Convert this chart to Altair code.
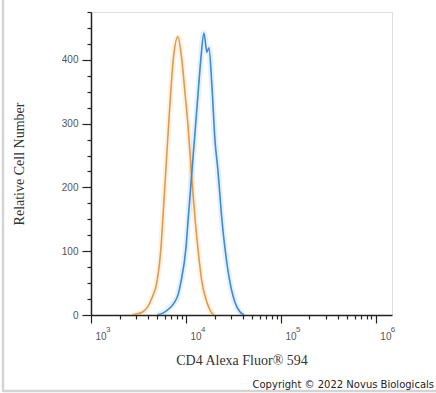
import altair as alt
import pandas as pd

# Orange histogram (isotype control)
orange_x = [2700, 3530, 4390, 4950, 5460, 5740, 6140, 6620, 6920, 7380, 8240,
            9000, 9750, 10500, 11350, 12500, 13350, 14730, 16630, 18330, 19900]
orange_y = [0, 5, 27, 52, 105, 157, 227, 306, 350, 403, 436,
            403, 350, 298, 227, 149, 105, 52, 20, 5, 0]

# Blue histogram (CD4 stained)
blue_x = [5000, 6010, 8040, 8860, 10000, 10640, 11590, 12640, 13460, 14390, 15450,
          16630, 17460, 18800, 20190, 21720, 23940, 25740, 29040, 32800, 37000, 41000]
blue_y = [0, 5, 27, 52, 105, 157, 227, 298, 350, 403, 442,
          412, 419, 358, 275, 227, 149, 105, 52, 20, 5, 0]

x_ticks = [1000, 2000, 3000, 4000, 5000, 6000, 7000, 8000, 9000,
           10000, 20000, 30000, 40000, 50000, 60000, 70000, 80000, 90000,
           100000, 200000, 300000, 400000, 500000, 600000, 700000, 800000, 900000,
           1000000]
x_major = [1000, 10000, 100000, 1000000]
x_exponents = ["3", "4", "5", "6"]
y_ticks = list(range(0, 476, 25))

df = pd.concat([
    pd.DataFrame({"fl": orange_x, "count": orange_y, "s": "iso", "o": range(len(orange_x))}),
    pd.DataFrame({"fl": blue_x, "count": blue_y, "s": "cd4", "o": range(len(blue_x))}),
])
exp_df = pd.DataFrame({"fl": x_major, "e": x_exponents})
one = pd.DataFrame({"k": [0]})

x_scale = alt.Scale(type="log", domain=[1000, 1480000], nice=False)

x_enc = alt.X(
    "fl:Q",
    scale=x_scale,
    axis=alt.Axis(
        title="CD4 Alexa Fluor\u00ae 594",
        values=x_ticks,
        labelExpr="indexof([1000,10000,100000,1000000], datum.value) >= 0 ? '10' : ''",
        labelOverlap=False,
        labelFlush=False,
        labelAlign="left",
        labelOffset=4,
        labelPadding=8,
        labelFont="Liberation Sans",
        labelFontSize=10,
        labelColor="#555555",
        tickSize={"condition": {"test": "indexof([1000,10000,100000,1000000], datum.value) >= 0", "value": 8}, "value": 4},
        tickColor="#222222",
        tickWidth=1.2,
        domainColor="#222222",
        domainWidth=1.5,
        grid=False,
        titleFont="Liberation Serif",
        titleFontSize=14,
        titleFontWeight="normal",
        titleColor="#333333",
        titlePadding=12,
    ),
)

y_enc = alt.Y(
    "count:Q",
    scale=alt.Scale(domain=[0, 475], nice=False),
    axis=alt.Axis(
        title="Relative Cell Number",
        values=y_ticks,
        labelExpr="datum.value % 100 == 0 ? datum.label : ''",
        labelOverlap=False,
        labelFlush=False,
        labelPadding=4,
        labelFont="Liberation Sans",
        labelFontSize=10,
        labelColor="#555555",
        tickSize={"condition": {"test": "datum.value % 100 == 0", "value": 9}, "value": 4},
        tickColor="#222222",
        tickWidth=1.2,
        domainColor="#222222",
        domainWidth=1.5,
        grid=False,
        titleFont="Liberation Serif",
        titleFontSize=14,
        titleFontWeight="normal",
        titleColor="#333333",
        titlePadding=35,
    ),
)

color_scale = alt.Scale(domain=["iso", "cd4"], range=["#E49A45", "#3A8AD6"])

glow = alt.Chart(df).mark_line(interpolate="monotone", strokeWidth=6, opacity=0.12, clip=True).encode(
    x=x_enc, y=y_enc, order="o:Q",
    color=alt.Color("s:N", scale=color_scale, legend=None),
    detail="s:N",
)
lines = alt.Chart(df).mark_line(interpolate="monotone", strokeWidth=1.6, clip=True).encode(
    x=x_enc, y=y_enc, order="o:Q",
    color=alt.Color("s:N", scale=color_scale, legend=None),
    detail="s:N",
)

exps = alt.Chart(exp_df).mark_text(
    font="Liberation Sans", fontSize=8, align="left", baseline="alphabetic",
    color="#555555", dx=15, clip=False
).encode(x=alt.X("fl:Q", scale=x_scale), y=alt.value(320), text="e:N")

frame_left = alt.Chart(one).mark_rule(color="#d4d4d4", strokeWidth=2.5, clip=False).encode(
    x=alt.value(-88), y=alt.value(-12), y2=alt.value(380)
)
frame_bottom = alt.Chart(one).mark_rule(color="#d4d4d4", strokeWidth=2.5, clip=False).encode(
    x=alt.value(-88), x2=alt.value(345), y=alt.value(379)
)
copyright_txt = alt.Chart(one).mark_text(
    text="Copyright \u00a9 2022 Novus Biologicals", font="DejaVu Sans", fontSize=10,
    align="right", baseline="alphabetic", color="#222222", clip=False
).encode(x=alt.value(343), y=alt.value(376))

chart = alt.layer(glow, lines, exps, frame_left, frame_bottom, copyright_txt).properties(
    width=301, height=303,
    autosize=alt.AutoSizeParams(type="none"),
    padding={"left": 91, "top": 12, "right": 44, "bottom": 78},
).configure_view(stroke=None).configure(background="white")

chart.save("out.html", embed_options={"renderer": "svg", "actions": False})
